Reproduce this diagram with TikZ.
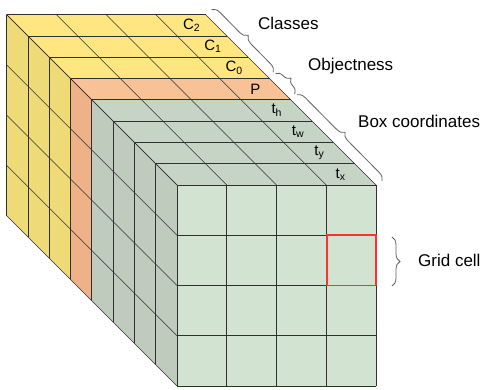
\documentclass[tikz,border=0pt]{standalone}
\usepackage{fontspec}
\setmainfont{Liberation Sans}
\usetikzlibrary{decorations.pathreplacing}

\definecolor{frontGreen}{HTML}{D3E3D2}
\definecolor{topGreen}{HTML}{C6D4C5}
\definecolor{sideGreen}{HTML}{BECBBD}
\definecolor{topOrange}{HTML}{F9C196}
\definecolor{sideOrange}{HTML}{EFB187}
\definecolor{topYellow}{HTML}{FFE680}
\definecolor{sideYellow}{HTML}{EEDB78}
\definecolor{gridLine}{HTML}{303030}
\definecolor{braceGray}{HTML}{606060}
\definecolor{cellRed}{HTML}{FF3030}

\tikzset{
  gridline/.style={draw=gridLine, line width=0.7pt},
  layerlabel/.style={font=\fontsize{15}{17}\selectfont, inner sep=0pt},
  sidetext/.style={font=\fontsize{17}{20}\selectfont, anchor=west, inner sep=0pt},
  curly/.style={draw=braceGray, line width=0.8pt,
    decorate, decoration={brace, amplitude=8pt}},
  cellmark/.style={draw=cellRed, line width=1.8pt}
}

\begin{document}
\begin{tikzpicture}[x=1pt, y=-1pt]
\useasboundingbox (0,0) rectangle (483,390);
\def\d{21.3}
% front face: x 177..376, y 185..386; eight layers behind it
% top and left faces of every layer
\foreach \k/\tc/\sc in {0/topGreen/sideGreen, 1/topGreen/sideGreen,
                        2/topGreen/sideGreen, 3/topGreen/sideGreen,
                        4/topOrange/sideOrange, 5/topYellow/sideYellow,
                        6/topYellow/sideYellow, 7/topYellow/sideYellow} {
  \fill[\tc] ({177-\k*\d},{185-\k*\d}) -- ({376-\k*\d},{185-\k*\d})
    -- ({376-(\k+1)*\d},{185-(\k+1)*\d}) -- ({177-(\k+1)*\d},{185-(\k+1)*\d}) -- cycle;
  \fill[\sc] ({177-\k*\d},{185-\k*\d}) -- ({177-(\k+1)*\d},{185-(\k+1)*\d})
    -- ({177-(\k+1)*\d},{386-(\k+1)*\d}) -- ({177-\k*\d},{386-\k*\d}) -- cycle;
}
\fill[frontGreen] (177,185) rectangle (376,386);

% column lines: on the front and across the top
\foreach \i in {0,...,4} {
  \pgfmathsetmacro\xx{177+\i*49.75}
  \draw[gridline] (\xx,185) -- ({\xx-8*\d},{185-8*\d});
  \draw[gridline] (\xx,185) -- (\xx,386);
}
% row lines: on the front and across the left side
\foreach \j in {0,...,4} {
  \pgfmathsetmacro\yy{185+\j*50.25}
  \draw[gridline] (177,\yy) -- ({177-8*\d},{\yy-8*\d});
  \draw[gridline] (177,\yy) -- (376,\yy);
}
% layer boundaries on the top and on the left side
\foreach \k in {0,...,8} {
  \draw[gridline] ({177-\k*\d},{185-\k*\d}) -- ({376-\k*\d},{185-\k*\d});
  \draw[gridline] ({177-\k*\d},{185-\k*\d}) -- ({177-\k*\d},{386-\k*\d});
}

% highlighted grid cell
\draw[cellmark] (326.75,235.25) rectangle (376,285.5);

% channel names in the last cell of each layer
\foreach \k/\t/\n in {0/{t\textsubscript{x}}/tx, 1/{t\textsubscript{y}}/ty,
                      2/{t\textsubscript{w}}/tw, 3/{t\textsubscript{h}}/th,
                      4/{P}/p, 5/{C\textsubscript{0}}/c0,
                      6/{C\textsubscript{1}}/c1, 7/{C\textsubscript{2}}/c2} {
  \node[layerlabel] (\n) at ({340.7-\k*\d},{174.3-\k*\d}) {\t};
}

% brace end points along the top-right edge
\coordinate (cls1) at ({376-8*\d+6},{185-8*\d-5});
\coordinate (cls2) at ({376-5*\d+4},{185-5*\d-6});
\coordinate (obj1) at ({376-5*\d+6},{185-5*\d-5});
\coordinate (obj2) at ({376-4*\d+4},{185-4*\d-6});
\coordinate (box1) at ({376-4*\d+6},{185-4*\d-5});
\coordinate (box2) at ({376+6},{185-4});
\coordinate (cell1) at (392,237);
\coordinate (cell2) at (392,286);

\draw[curly] (cls1) -- (cls2);
\draw[curly] (obj1) -- (obj2);
\draw[curly] (box1) -- (box2);
\draw[curly] (cell1) -- (cell2);

\node[sidetext] (classes) at (258,23) {Classes};
\node[sidetext] (objectness) at (308,66) {Objectness};
\node[sidetext] (boxcoord) at (358,121) {Box coordinates};
\node[sidetext] (gridcell) at (418,260) {Grid cell};
\end{tikzpicture}
\end{document}
